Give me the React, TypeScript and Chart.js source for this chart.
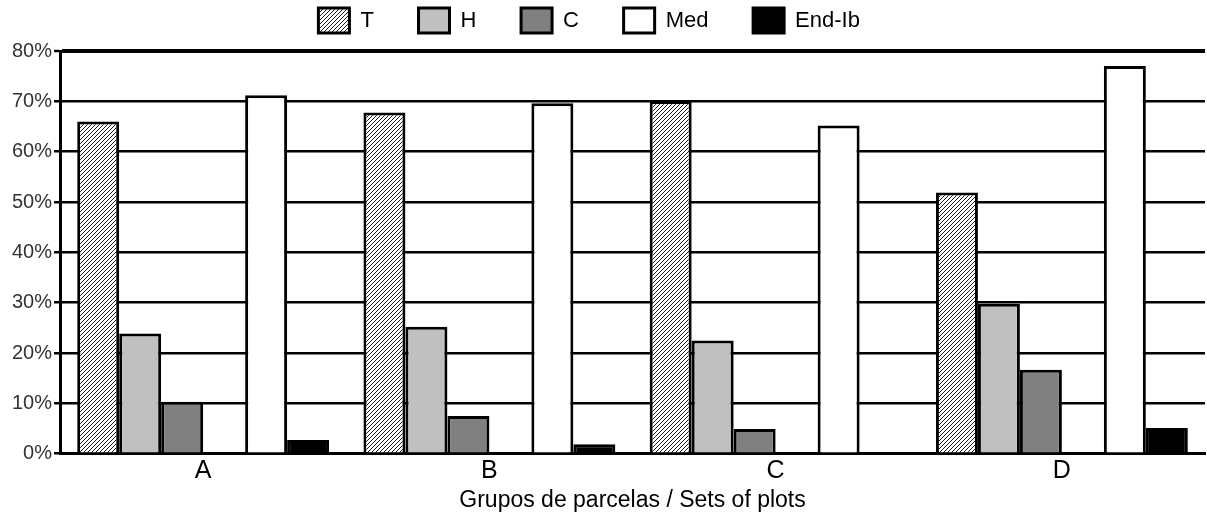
import React, { useEffect, useRef } from 'react';
import { Chart, registerables } from 'chart.js';

Chart.register(...registerables);

const categories = ['A', 'B', 'C', 'D'];
const seriesNames = ['T', 'H', 'C', 'Med', 'End-Ib'];
const tValues = [66.0, 67.8, 70.0, 51.9];
const hValues = [23.9, 25.2, 22.5, 29.8];
const cValues = [10.3, 7.5, 4.9, 16.7];
const medValues = [71.2, 69.6, 65.2, 77.0];
const endIbValues = [2.7, 1.9, 0, 5.1];
const yTickValues = [0, 10, 20, 30, 40, 50, 60, 70, 80];
const xAxisTitle = 'Grupos de parcelas / Sets of plots';

const SANS = 'Arial, "Liberation Sans", sans-serif';

function makeHatch(): CanvasPattern | string {
  const c = document.createElement('canvas');
  c.width = 4;
  c.height = 4;
  const ctx = c.getContext('2d');
  if (!ctx) return '#888';
  ctx.fillStyle = '#ffffff';
  ctx.fillRect(0, 0, 4, 4);
  ctx.strokeStyle = '#222222';
  ctx.lineWidth = 1;
  ctx.beginPath();
  ctx.moveTo(-1, 5);
  ctx.lineTo(5, -1);
  ctx.moveTo(-1, 1);
  ctx.lineTo(1, -1);
  ctx.moveTo(3, 5);
  ctx.lineTo(5, 3);
  ctx.stroke();
  const p = ctx.createPattern(c, 'repeat');
  return p || '#888';
}

const legendSpacer = {
  id: 'legendSpacer',
  afterInit(chart: any) {
    const legend = chart.legend;
    if (!legend || legend.__patched) return;
    const orig = legend.fit.bind(legend);
    legend.fit = function () {
      orig();
      this.height += 8;
    };
    legend.__patched = true;
  },
};

export default function App() {
  const ref = useRef<HTMLCanvasElement | null>(null);

  useEffect(() => {
    document.body.style.margin = '0';
    const canvas = ref.current;
    if (!canvas) return;
    const hatch = makeHatch();
    const common = {
      borderColor: '#000000',
      borderWidth: 3,
      barPercentage: 1.0,
      categoryPercentage: 0.88,
    };
    const gap = '      ';
    const chart = new Chart(canvas, {
      type: 'bar',
      data: {
        labels: categories,
        datasets: [
          { label: seriesNames[0], data: tValues, backgroundColor: hatch as any, ...common },
          { label: seriesNames[1], data: hValues, backgroundColor: '#c0c0c0', ...common },
          { label: seriesNames[2], data: cValues, backgroundColor: '#808080', ...common },
          { label: '', data: [null, null, null, null], backgroundColor: 'rgba(0,0,0,0)', ...common },
          { label: seriesNames[3], data: medValues, backgroundColor: '#ffffff', ...common },
          { label: seriesNames[4], data: endIbValues, backgroundColor: '#000000', ...common },
        ],
      },
      plugins: [legendSpacer],
      options: {
        responsive: false,
        animation: false,
        layout: { padding: { left: 10, right: 2, top: 0, bottom: 0 } },
        plugins: {
          legend: {
            position: 'top',
            labels: {
              filter: (item: any) => item.text !== '',
              generateLabels: (ch: any) => {
                const items = Chart.defaults.plugins.legend.labels.generateLabels(ch);
                return items.map((it: any) => (it.text ? { ...it, text: it.text + gap } : it));
              },
              boxWidth: 31,
              boxHeight: 25,
              padding: 8,
              color: '#000',
              font: { family: SANS, size: 22 },
            },
          },
          tooltip: { enabled: false },
        },
        scales: {
          x: {
            grid: { display: false, drawTicks: false },
            border: { display: true, color: '#000', width: 3 },
            ticks: {
              color: '#000',
              padding: 2,
              font: { family: SANS, size: 25 },
            },
            title: {
              display: true,
              text: xAxisTitle,
              color: '#000',
              padding: { top: 0, bottom: 0 },
              font: { family: SANS, size: 23, lineHeight: 1.1 },
            },
          },
          y: {
            min: 0,
            max: 80,
            afterBuildTicks: (axis: any) => {
              axis.ticks = yTickValues.map((v) => ({ value: v }));
            },
            grid: {
              color: '#000',
              lineWidth: (ctx: any) => (ctx.tick && ctx.tick.value === 80 ? 4 : 2.5),
              tickLength: 6,
              tickWidth: 2.5,
              tickColor: '#000',
            },
            border: { display: true, color: '#000', width: 3 },
            ticks: {
              color: '#333',
              padding: 2,
              callback: (v: any) => v + '%',
              font: { family: SANS, size: 20 },
            },
          },
        },
      },
    });
    return () => chart.destroy();
  }, []);

  return (
    <div style={{ width: 1207, height: 513 }}>
      <canvas ref={ref} width={1207} height={513} style={{ display: 'block' }} />
    </div>
  );
}
